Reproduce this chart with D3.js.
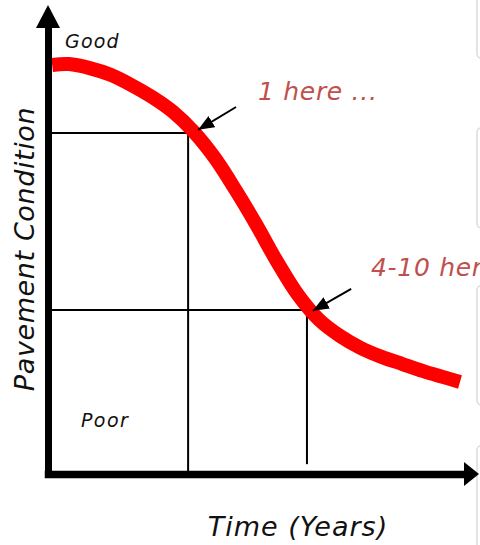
<!DOCTYPE html>
<html><head><meta charset="utf-8">
<script src="https://cdn.jsdelivr.net/npm/d3@7"></script>
<style>
html,body{margin:0;padding:0;background:#fff;}
svg{display:block;}
text{font-family:"DejaVu Sans",Verdana,sans-serif;font-style:italic;}
</style></head>
<body><svg id="c" width="480" height="545"></svg>
<script>
// ---- data (time index 0..100, condition 0..100) ----
const curveTime      = [1, 5, 10, 15, 20, 25, 30, 35, 40, 45, 50, 55, 60, 65, 70, 75, 80, 85, 90, 98.8];
const curveCondition = [91.5, 91.7, 90.8, 89.3, 87.0, 84.3, 81.0, 76.5, 70.7, 63.5, 55.7, 47.4, 40.0, 34.5, 30.9, 28.2, 26.2, 24.6, 23.0, 20.6];
const refTime      = [33.6, 62.1];
const refCondition = [76.3, 36.7];
const refBottom    = [0, 2.2];
const arrowFromTime = [45.1, 72.7];
const arrowFromCond = [82.1, 41.4];
const arrowToTime   = [36.0, 63.5];
const arrowToCond   = [77.0, 36.5];
const annotations   = ["1 here ...", "4-10 here ..."];
const levelLabels   = ["Good", "Poor"];
const xTitle = "Time (Years)";
const yTitle = "Pavement Condition";

const svg = d3.select("#c");
const x = d3.scaleLinear().domain([0, 100]).range([48, 465]);
const y = d3.scaleLinear().domain([0, 100]).range([474, 27]);

// right-edge panel boxes (page background)
const boxes = [[-10, 58], [128, 228], [286, 405], [446, 560]];
svg.selectAll("rect.box").data(boxes).join("rect")
  .attr("class", "box").attr("x", 477).attr("y", d => d[0])
  .attr("width", 20).attr("height", d => d[1] - d[0]).attr("rx", 4)
  .attr("fill", "#fff").attr("stroke", "#dcdcdc").attr("stroke-width", 1.5);

// reference lines
const refs = refTime.map((t, i) => ({t, c: refCondition[i], b: refBottom[i]}));
const gRef = svg.append("g").attr("stroke", "#000").attr("stroke-width", 2).attr("fill", "none");
gRef.selectAll("line.h").data(refs).join("line").attr("class", "h")
  .attr("x1", x(0)).attr("x2", d => x(d.t)).attr("y1", d => y(d.c)).attr("y2", d => y(d.c));
gRef.selectAll("line.v").data(refs).join("line").attr("class", "v")
  .attr("x1", d => x(d.t)).attr("x2", d => x(d.t)).attr("y1", d => y(d.c)).attr("y2", d => y(d.b));

// deterioration curve
const pts = curveTime.map((t, i) => [t, curveCondition[i]]);
svg.append("path").datum(pts)
  .attr("d", d3.line().x(d => x(d[0])).y(d => y(d[1])).curve(d3.curveCatmullRom.alpha(0.5)))
  .attr("fill", "none").attr("stroke", "#ff0000").attr("stroke-width", 14).attr("stroke-linecap", "butt");

// axes
const yAxis = svg.append("g").attr("transform", `translate(${x(0)},0)`)
  .call(d3.axisLeft(y).tickValues([]).tickSizeOuter(0));
const xAxis = svg.append("g").attr("transform", `translate(0,${y(0)})`)
  .call(d3.axisBottom(x).tickValues([]).tickSizeOuter(0));
yAxis.select(".domain").attr("stroke", "#000").attr("stroke-width", 7).attr("stroke-linecap", "square");
xAxis.select(".domain").attr("stroke", "#000").attr("stroke-width", 7.5).attr("stroke-linecap", "square");
// axis arrowheads
const yTop = y.range()[1], xEnd = x.range()[1];
svg.append("path").attr("d", `M${x(0)},${yTop - 22}L${x(0) - 12},${yTop + 1}L${x(0) + 12},${yTop + 1}Z`).attr("fill", "#000");
svg.append("path").attr("d", `M${xEnd + 14},${y(0)}L${xEnd - 1},${y(0) - 12}L${xEnd - 1},${y(0) + 12}Z`).attr("fill", "#000");

// annotation arrows
svg.append("defs").append("marker").attr("id", "ah")
  .attr("markerUnits", "userSpaceOnUse").attr("markerWidth", 18).attr("markerHeight", 14)
  .attr("viewBox", "0 -7 18 14").attr("refX", 16).attr("refY", 0).attr("orient", "auto")
  .append("path").attr("d", "M0,-6.5L16,0L0,6.5Z").attr("fill", "#000");
const arr = arrowFromTime.map((t, i) => ({x1: t, y1: arrowFromCond[i], x2: arrowToTime[i], y2: arrowToCond[i]}));
svg.selectAll("line.arr").data(arr).join("line").attr("class", "arr")
  .attr("x1", d => x(d.x1)).attr("y1", d => y(d.y1)).attr("x2", d => x(d.x2)).attr("y2", d => y(d.y2))
  .attr("stroke", "#000").attr("stroke-width", 2).attr("marker-end", "url(#ah)");

// texts
svg.append("text").attr("x", 65).attr("y", 48).attr("font-size", 19).attr("letter-spacing", 1.2).attr("fill", "#111").text(levelLabels[0]);
svg.append("text").attr("x", 81).attr("y", 427).attr("font-size", 19).attr("letter-spacing", 1.4).attr("fill", "#111").text(levelLabels[1]);
svg.append("text").attr("x", 258).attr("y", 100).attr("font-size", 25).attr("letter-spacing", 0.7).attr("fill", "#c0504d").text(annotations[0]);
svg.append("text").attr("x", 371).attr("y", 276).attr("font-size", 25).attr("letter-spacing", 0.7).attr("fill", "#c0504d").text(annotations[1]);
svg.append("text").attr("transform", "translate(34,249) rotate(-90)").attr("text-anchor", "middle")
  .attr("font-size", 27).attr("letter-spacing", 0.6).attr("fill", "#111").text(yTitle);
svg.append("text").attr("x", 298).attr("y", 536).attr("text-anchor", "middle")
  .attr("font-size", 27).attr("letter-spacing", 1).attr("fill", "#111").text(xTitle);
</script></body></html>
